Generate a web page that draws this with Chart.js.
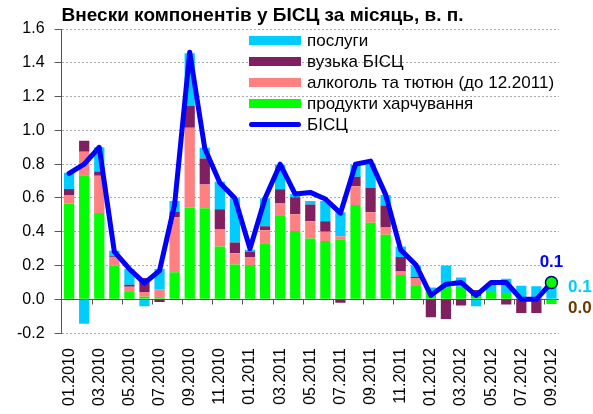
<!DOCTYPE html>
<html>
<head>
<meta charset="utf-8">
<script src="https://cdn.jsdelivr.net/npm/chart.js@4.4.0/dist/chart.umd.min.js"></script>
<style>
body { margin: 0; background: #fff; }
#wrap { position: relative; width: 593px; height: 414px; }
#legend { position: absolute; left: 249px; top: 30px; font-family: Arial, "Liberation Sans", sans-serif; font-size: 17px; color: #000; }
.row { height: 21px; display: flex; align-items: center; white-space: nowrap; }
.sw { width: 52px; height: 9px; margin-right: 6px; }
.ln { width: 52px; height: 5px; border-radius: 3px; margin-right: 6px; }
</style>
</head>
<body>
<div id="wrap">
  <canvas id="chart" width="593" height="414"></canvas>
  <div id="legend"></div>
</div>
<script>
const title = "Внески компонентів у БІСЦ за місяць, в. п.";

const months = ["01.2010","02.2010","03.2010","04.2010","05.2010","06.2010","07.2010","08.2010","09.2010","10.2010","11.2010","12.2010",
                "01.2011","02.2011","03.2011","04.2011","05.2011","06.2011","07.2011","08.2011","09.2011","10.2011","11.2011","12.2011",
                "01.2012","02.2012","03.2012","04.2012","05.2012","06.2012","07.2012","08.2012","09.2012"];

// contributions, p.p.
const food       = [0.568,0.735,0.511,0.199,0.043,0.016,0.008,0.161,0.543,0.539,0.313,0.206,
                    0.203,0.332,0.494,0.405,0.360,0.346,0.356,0.559,0.454,0.383,0.144,0.079,
                    0.045,0.085,0.075,0.020,0.050,0.037,0.000,0.000,-0.028];
const alcohol    = [0.046,0.138,0.221,0.051,0.032,0.027,0.052,0.325,0.472,0.141,0.100,0.067,
                    0.047,0.077,0.077,0.098,0.102,0.054,0.018,0.111,0.061,0.042,0.021,0.047,
                    0,0,0,0,0,0,0,0,0];
const coreNarrow = [0.039,0.065,0.025,0.005,0.012,0.083,-0.016,0.033,0.130,0.154,0.120,0.063,
                    0.033,0.024,0.080,0.101,0.100,0.062,-0.020,0.056,0.145,0.130,0.085,0.008,
                    -0.106,-0.116,-0.037,0.035,0.000,-0.031,-0.080,-0.080,0.000];
const services   = [0.096,-0.144,0.143,0.032,0.092,-0.040,0.120,0.063,0.312,0.063,0.163,0.262,
                    0.010,0.165,0.145,0.019,0.020,0.120,0.141,0.069,0.144,0.062,0.063,0.066,
                    0.025,0.115,0.055,-0.040,0.045,0.085,0.080,0.077,0.087];
const cpiCore    = [0.745,0.800,0.900,0.283,0.180,0.096,0.170,0.562,1.463,0.893,0.690,0.598,
                    0.300,0.598,0.800,0.623,0.633,0.594,0.510,0.800,0.818,0.620,0.293,0.205,
                    0.024,0.090,0.100,0.024,0.100,0.100,0.000,0.000,0.100];

const seriesNames = ["продукти харчування", "алкоголь та тютюн (до 12.2011)", "вузька БІСЦ", "послуги", "БІСЦ"];
const seriesColors = ["#00FF00", "#FF8080", "#802060", "#00CCFF", "#0000FF"];

const FONT = 'Arial, "Liberation Sans", sans-serif';
const n = months.length;

const extras = {
  id: 'extras',
  afterDraw(chart) {
    const { ctx, chartArea, scales } = chart;
    const x = scales.x, y = scales.y;
    ctx.save();
    // small category ticks on the zero line
    ctx.strokeStyle = '#555';
    ctx.lineWidth = 1;
    const y0 = Math.round(y.getPixelForValue(0)) + 0.5;
    for (let i = 2; i < n; i += 2) {
      const px = Math.round((x.getPixelForValue(i - 1) + x.getPixelForValue(i)) / 2) + 0.5;
      ctx.beginPath(); ctx.moveTo(px, y0); ctx.lineTo(px, y0 + 5); ctx.stroke();
    }
    // title
    ctx.fillStyle = '#000';
    ctx.font = 'bold 19px ' + FONT;
    ctx.textAlign = 'left';
    ctx.textBaseline = 'alphabetic';
    ctx.fillText(title, chartArea.left, 21);
    // last values
    const meta = chart.getDatasetMeta(4);
    const last = meta.data[n - 1];
    ctx.font = 'bold 17px ' + FONT;
    ctx.textBaseline = 'middle';
    ctx.textAlign = 'center';
    ctx.fillStyle = '#0000FF';
    ctx.fillText(cpiCore[n - 1].toFixed(1), last.x, last.y - 20);
    ctx.textAlign = 'left';
    ctx.fillStyle = '#00CCFF';
    ctx.fillText(services[n - 1].toFixed(1), chartArea.right + 9, last.y + 5);
    ctx.fillStyle = '#6B3A00';
    ctx.fillText(coreNarrow[n - 1].toFixed(1), chartArea.right + 9, y.getPixelForValue(0) + 9);
    ctx.restore();
  }
};

const barSets = [food, alcohol, coreNarrow, services].map((d, i) => ({
  type: 'bar',
  label: seriesNames[i],
  data: d,
  backgroundColor: seriesColors[i],
  borderWidth: 0,
  barPercentage: 0.68,
  categoryPercentage: 1,
  stack: 's',
  order: 1
}));

const chart = new Chart(document.getElementById('chart'), {
  data: {
    labels: months,
    datasets: [...barSets, {
      type: 'line',
      label: seriesNames[4],
      data: cpiCore,
      borderColor: seriesColors[4],
      borderWidth: 5,
      tension: 0,
      borderCapStyle: 'round',
      borderJoinStyle: 'round',
      pointRadius: (c) => c.dataIndex === n - 1 ? 6 : 0,
      pointBackgroundColor: '#00FF00',
      pointBorderColor: '#000080',
      pointBorderWidth: 1.5,
      order: 0
    }]
  },
  options: {
    responsive: false,
    animation: false,
    devicePixelRatio: 1,
    layout: { padding: { left: 7, right: 34, top: 29, bottom: 1 } },
    plugins: { legend: { display: false }, tooltip: { enabled: false } },
    scales: {
      x: {
        stacked: true,
        offset: true,
        grid: { display: false },
        border: { display: false },
        ticks: {
          autoSkip: false,
          maxRotation: 90,
          minRotation: 90,
          padding: 7,
          color: '#000',
          font: { family: FONT, size: 16 },
          callback: (v, i) => i % 2 === 0 ? months[i] : ''
        }
      },
      y: {
        stacked: true,
        min: -0.2,
        max: 1.6,
        ticks: {
          stepSize: 0.2,
          padding: 10,
          color: '#000',
          font: { family: FONT, size: 16 },
          callback: (v) => v.toFixed(1)
        },
        grid: {
          color: (c) => c.tick && Math.abs(c.tick.value) < 1e-9 ? '#555' : '#aaa',
          lineWidth: 1,
          tickLength: 7,
          tickColor: '#555',
          tickBorderDash: []
        },
        border: {
          display: true,
          color: '#555',
          width: 1,
          dash: (c) => c.tick && Math.abs(c.tick.value) < 1e-9 ? [] : [2, 2]
        }
      }
    }
  },
  plugins: [extras]
});

// legend, top to bottom as in the source
const legend = document.getElementById('legend');
[3, 2, 1, 0, 4].forEach(i => {
  const row = document.createElement('div');
  row.className = 'row';
  const sw = document.createElement('div');
  sw.className = i === 4 ? 'ln' : 'sw';
  sw.style.background = seriesColors[i];
  const tx = document.createElement('span');
  tx.textContent = seriesNames[i];
  row.appendChild(sw);
  row.appendChild(tx);
  legend.appendChild(row);
});
</script>
</body>
</html>
